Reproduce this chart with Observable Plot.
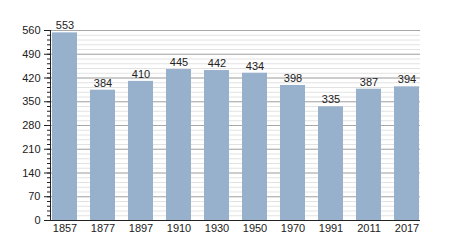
<!DOCTYPE html>
<html>
<head>
<meta charset="utf-8">
<script src="https://cdn.jsdelivr.net/npm/d3@7"></script>
<script src="https://cdn.jsdelivr.net/npm/@observablehq/plot@0.6"></script>
<style>
  html, body { margin: 0; padding: 0; background: #fff; }
  #chart svg { display: block; }
</style>
</head>
<body>
<div id="chart"></div>
<script>
const years = ["1857", "1877", "1897", "1910", "1930", "1950", "1970", "1991", "2011", "2017"];
const population = [553, 384, 410, 445, 442, 434, 398, 335, 387, 394];
const majorTicks = [0, 70, 140, 210, 280, 350, 420, 490, 560];
const minorTicks = d3.range(0, 561, 14);

const data = years.map((y, i) => ({year: y, value: population[i]}));

const chart = Plot.plot({
  width: 450,
  height: 250,
  marginLeft: 50,
  marginRight: 30,
  marginTop: 30,
  marginBottom: 30,
  style: {fontFamily: "'Liberation Sans', Arial, sans-serif", fontSize: "11px", color: "#222", background: "#fff"},
  x: {domain: years, paddingInner: 0.35, paddingOuter: 0, label: null},
  y: {domain: [0, 560], label: null},
  marks: [
    Plot.gridY(minorTicks, {stroke: "#e2e2e2", strokeOpacity: 1}),
    Plot.gridY(majorTicks, {stroke: "#a8a8a8", strokeOpacity: 1}),
    Plot.barY(data, {x: "year", y: "value", fill: "#97b0cc"}),
    Plot.text(data, {x: "year", y: "value", text: d => String(d.value), dy: -7, fontSize: 11, fill: "#222"}),
    Plot.axisY(minorTicks, {tickSize: 3, text: null, label: null, stroke: "#222"}),
    Plot.axisY(majorTicks, {tickSize: 6, tickPadding: 4, label: null, fontSize: 11, stroke: "#222"}),
    Plot.axisX({tickSize: 0, tickPadding: 4, label: null, fontSize: 11}),
    Plot.ruleY([0], {stroke: "#222"}),
    Plot.frame({anchor: "left", stroke: "#222"})
  ]
});
document.getElementById("chart").appendChild(chart);
</script>
</body>
</html>
